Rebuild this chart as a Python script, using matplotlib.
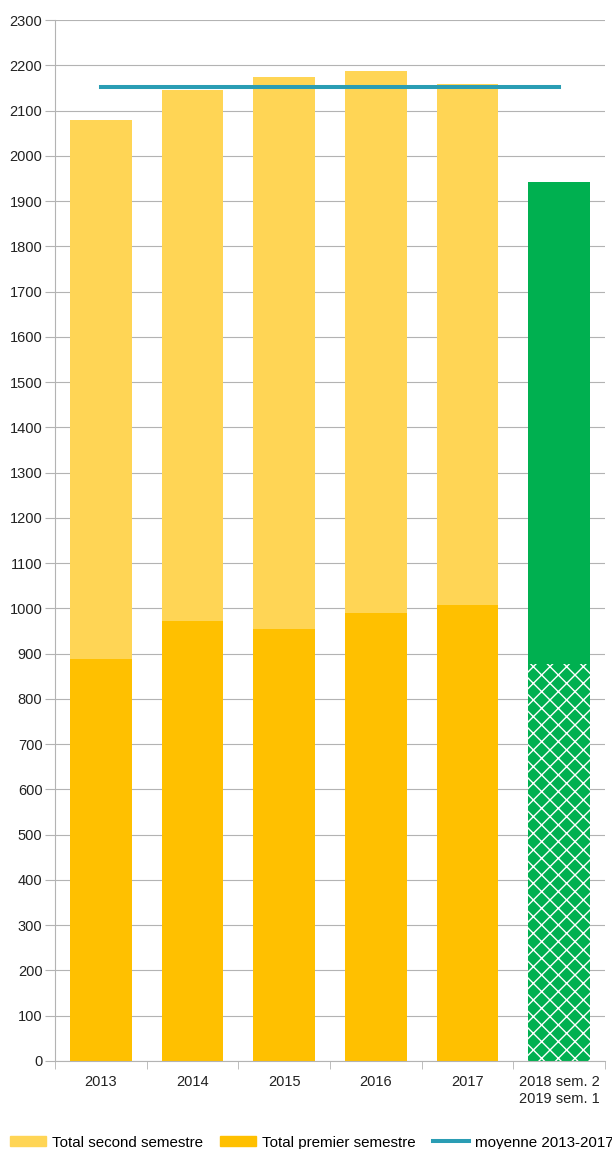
import numpy as np
import matplotlib.pyplot as plt
from matplotlib.patches import Patch
from matplotlib.lines import Line2D

plt.rcParams['font.family'] = ['Liberation Sans', 'DejaVu Sans']
plt.rcParams['hatch.color'] = 'white'
plt.rcParams['hatch.linewidth'] = 1.0

categories = ['2013', '2014', '2015', '2016', '2017', '2018 sem. 2\n2019 sem. 1']
premier = [888, 972, 954, 990, 1007]
second = [1191, 1173, 1220, 1198, 1151]
recent_sem2 = 877
recent_sem1 = 1065
moyenne = 2151

c_second = '#FFD555'
c_premier = '#FFC000'
c_green = '#00B050'
c_line = '#2A9DB4'

fig = plt.figure(figsize=(6.12, 11.49), dpi=100)
ax = fig.add_axes([55/612, 88/1149, 550/612, 1041/1149])

x = np.arange(len(premier))
w = 0.676
ax.bar(x, premier, w, color=c_premier, zorder=2)
ax.bar(x, second, w, bottom=premier, color=c_second, zorder=2)
ax.bar(5, recent_sem2, w, color=c_green, hatch='xx', linewidth=0, zorder=2)
ax.bar(5, recent_sem1, w, bottom=recent_sem2, color=c_green, zorder=2)
ax.plot([0, 5], [moyenne, moyenne], color=c_line, lw=2.9, zorder=3)

ax.set_xlim(-0.5, 5.5)
ax.set_ylim(0, 2300)
ax.set_yticks(range(0, 2301, 100))
ax.grid(axis='y', color='#b3b3b3', lw=0.8, zorder=0)
ax.set_xticks(range(6))
ax.set_xticklabels(categories, linespacing=1.3)
ax.set_xticks(np.arange(-0.5, 6, 1), minor=True)
ax.tick_params(axis='x', which='major', length=0, pad=10, labelsize=10.5, colors='#222222')
ax.tick_params(axis='x', which='minor', length=6, color='#b3b3b3')
ax.tick_params(axis='y', length=7, pad=2, color='#b3b3b3', labelsize=10.5, labelcolor='#222222')
for s in ['top', 'right']:
    ax.spines[s].set_visible(False)
for s in ['left', 'bottom']:
    ax.spines[s].set_color('#b3b3b3')

handles = [Patch(color=c_second, label='Total second semestre'),
           Patch(color=c_premier, label='Total premier semestre'),
           Line2D([], [], color=c_line, lw=2.9, label='moyenne 2013-2017')]
fig.legend(handles=handles, loc='center', bbox_to_anchor=(0.509, 0.0055), ncol=3,
           frameon=False, fontsize=10.9, handlelength=2.38, handleheight=0.65,
           columnspacing=1.15, handletextpad=0.38, borderpad=0)

fig.savefig('out.png', dpi=100)
